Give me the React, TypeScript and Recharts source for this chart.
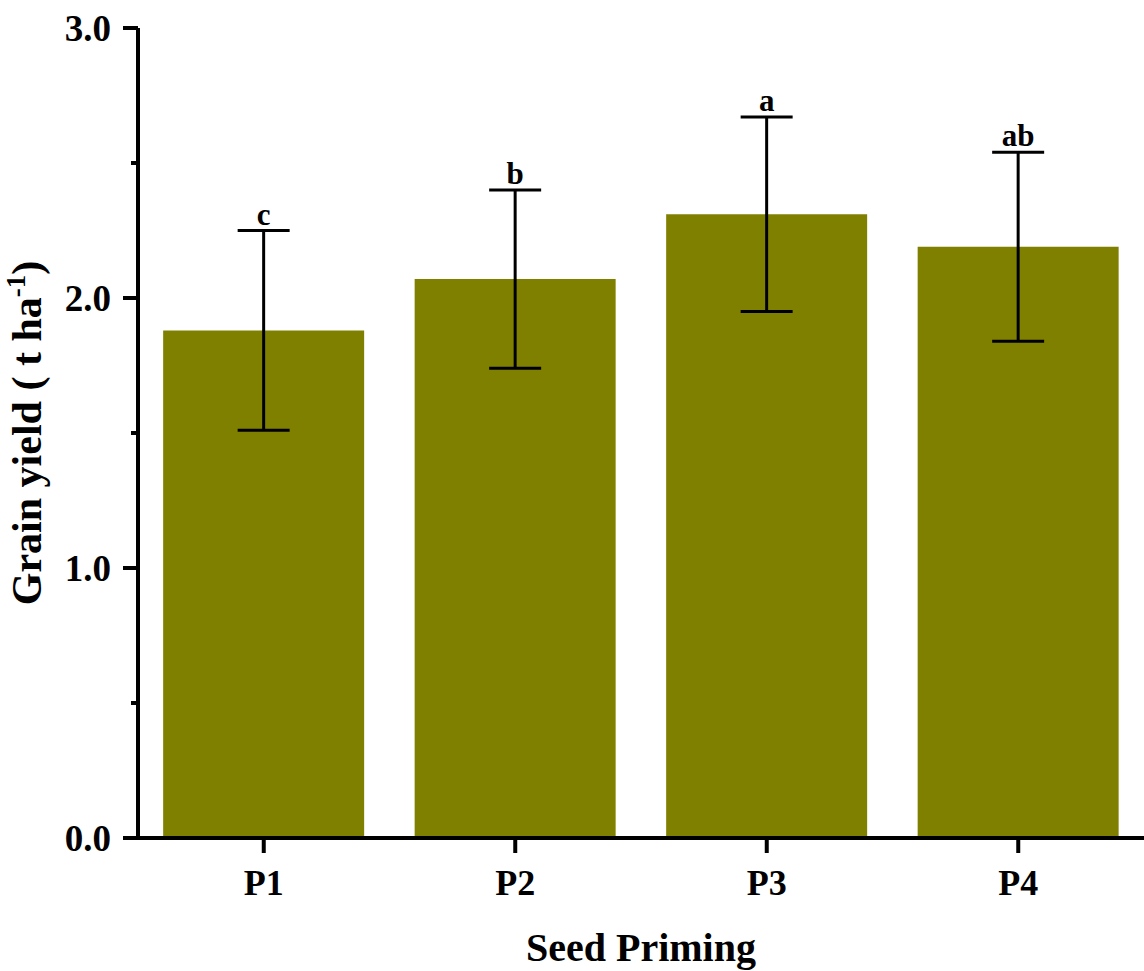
import { BarChart, Bar, XAxis, YAxis, ErrorBar, LabelList } from "recharts";

const categories = ["P1", "P2", "P3", "P4"];
const grainYield = [1.88, 2.07, 2.31, 2.19];
const yieldErr = [0.37, 0.33, 0.36, 0.35];
const sigLetters = ["c", "b", "a", "ab"];
const yTicks = [0, 0.5, 1, 1.5, 2, 2.5, 3];

const data = categories.map((name, i) => ({
  name,
  value: grainYield[i],
  err: yieldErr[i],
  letter: sigLetters[i],
}));

const FONT = "'Liberation Serif', 'Times New Roman', serif";

function YTick(props: any) {
  const { x, y, payload } = props;
  const major = Number.isInteger(payload.value);
  return (
    <g>
      <line x1={x - (major ? 15 : 7)} x2={x} y1={y} y2={y} stroke="#000" strokeWidth={4} />
      {major && (
        <text x={x - 27} y={y} dy={13} textAnchor="end" fontFamily={FONT} fontWeight="bold" fontSize={37} fill="#000">
          {payload.value.toFixed(1)}
        </text>
      )}
    </g>
  );
}

function LetterLabel(props: any) {
  const { x, y, width, height, value, index } = props;
  // pixel per unit from the bar itself, then move up by the error amount
  const pxPerUnit = height / grainYield[index];
  const top = y - yieldErr[index] * pxPerUnit;
  return (
    <text x={x + width / 2} y={top - 6} textAnchor="middle" fontFamily={FONT} fontWeight="bold" fontSize={31} fill="#000">
      {value}
    </text>
  );
}

function YLabel(props: any) {
  const vb = props.viewBox || { x: 0, y: 28, width: 138, height: 810 };
  const cx = vb.x + 41;
  const cy = vb.y + vb.height / 2;
  return (
    <text transform={`translate(${cx},${cy}) rotate(-90)`} textAnchor="middle" fontFamily={FONT} fontWeight="bold" fontSize={42} fill="#000">
      Grain yield ( t ha<tspan dy={-16} fontSize={27}>-1</tspan><tspan dy={16}>)</tspan>
    </text>
  );
}

export default function App() {
  return (
    <div>
      <style>{"body{margin:0}"}</style>
      <BarChart
        width={1144}
        height={971}
        data={data}
        margin={{ top: 28, right: 0, left: 0, bottom: 0 }}
        barCategoryGap="10%"
      >
        <XAxis
          dataKey="name"
          height={133}
          axisLine={{ stroke: "#000", strokeWidth: 4 }}
          tickLine={{ stroke: "#000", strokeWidth: 4 }}
          tickSize={15}
          tickMargin={16}
          tick={{ fontFamily: FONT, fontWeight: "bold", fontSize: 36, fill: "#000" }}
          label={{
            value: "Seed Priming",
            position: "insideBottom",
            offset: 10,
            style: { fontFamily: FONT, fontWeight: "bold", fontSize: 40, fill: "#000" },
          }}
        />
        <YAxis
          width={138}
          domain={[0, 3]}
          ticks={yTicks}
          interval={0}
          axisLine={{ stroke: "#000", strokeWidth: 4 }}
          tickLine={false}
          tickSize={0}
          tickMargin={0}
          tick={<YTick />}
          label={{ content: (p: any) => <YLabel {...p} /> }}
        />
        <Bar dataKey="value" fill="#808000" isAnimationActive={false}>
          <ErrorBar dataKey="err" width={26} strokeWidth={3} stroke="#000" direction="y" isAnimationActive={false} />
          <LabelList dataKey="letter" content={(p: any) => <LetterLabel {...p} />} />
        </Bar>
      </BarChart>
    </div>
  );
}
